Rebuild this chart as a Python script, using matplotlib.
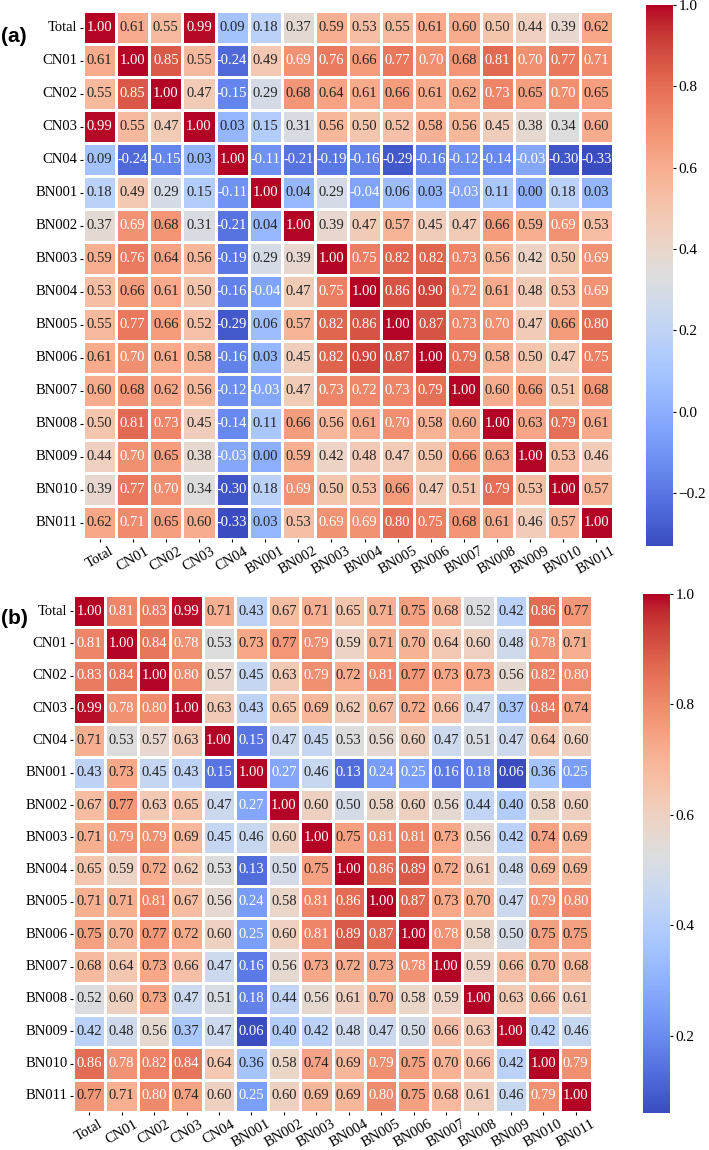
import numpy as np
import matplotlib
matplotlib.use('Agg')
import matplotlib.pyplot as plt
import seaborn as sns

plt.rcParams['font.family'] = ['Liberation Serif', 'DejaVu Serif']

labels = ['Total', 'CN01', 'CN02', 'CN03', 'CN04', 'BN001', 'BN002', 'BN003',
          'BN004', 'BN005', 'BN006', 'BN007', 'BN008', 'BN009', 'BN010', 'BN011']

# panel (a)
corr_a = [
    [1.00, 0.61, 0.55, 0.99, 0.09, 0.18, 0.37, 0.59, 0.53, 0.55, 0.61, 0.60, 0.50, 0.44, 0.39, 0.62],
    [0.61, 1.00, 0.85, 0.55, -0.24, 0.49, 0.69, 0.76, 0.66, 0.77, 0.70, 0.68, 0.81, 0.70, 0.77, 0.71],
    [0.55, 0.85, 1.00, 0.47, -0.15, 0.29, 0.68, 0.64, 0.61, 0.66, 0.61, 0.62, 0.73, 0.65, 0.70, 0.65],
    [0.99, 0.55, 0.47, 1.00, 0.03, 0.15, 0.31, 0.56, 0.50, 0.52, 0.58, 0.56, 0.45, 0.38, 0.34, 0.60],
    [0.09, -0.24, -0.15, 0.03, 1.00, -0.11, -0.21, -0.19, -0.16, -0.29, -0.16, -0.12, -0.14, -0.03, -0.30, -0.33],
    [0.18, 0.49, 0.29, 0.15, -0.11, 1.00, 0.04, 0.29, -0.04, 0.06, 0.03, -0.03, 0.11, 0.00, 0.18, 0.03],
    [0.37, 0.69, 0.68, 0.31, -0.21, 0.04, 1.00, 0.39, 0.47, 0.57, 0.45, 0.47, 0.66, 0.59, 0.69, 0.53],
    [0.59, 0.76, 0.64, 0.56, -0.19, 0.29, 0.39, 1.00, 0.75, 0.82, 0.82, 0.73, 0.56, 0.42, 0.50, 0.69],
    [0.53, 0.66, 0.61, 0.50, -0.16, -0.04, 0.47, 0.75, 1.00, 0.86, 0.90, 0.72, 0.61, 0.48, 0.53, 0.69],
    [0.55, 0.77, 0.66, 0.52, -0.29, 0.06, 0.57, 0.82, 0.86, 1.00, 0.87, 0.73, 0.70, 0.47, 0.66, 0.80],
    [0.61, 0.70, 0.61, 0.58, -0.16, 0.03, 0.45, 0.82, 0.90, 0.87, 1.00, 0.79, 0.58, 0.50, 0.47, 0.75],
    [0.60, 0.68, 0.62, 0.56, -0.12, -0.03, 0.47, 0.73, 0.72, 0.73, 0.79, 1.00, 0.60, 0.66, 0.51, 0.68],
    [0.50, 0.81, 0.73, 0.45, -0.14, 0.11, 0.66, 0.56, 0.61, 0.70, 0.58, 0.60, 1.00, 0.63, 0.79, 0.61],
    [0.44, 0.70, 0.65, 0.38, -0.03, 0.00, 0.59, 0.42, 0.48, 0.47, 0.50, 0.66, 0.63, 1.00, 0.53, 0.46],
    [0.39, 0.77, 0.70, 0.34, -0.30, 0.18, 0.69, 0.50, 0.53, 0.66, 0.47, 0.51, 0.79, 0.53, 1.00, 0.57],
    [0.62, 0.71, 0.65, 0.60, -0.33, 0.03, 0.53, 0.69, 0.69, 0.80, 0.75, 0.68, 0.61, 0.46, 0.57, 1.00],
]

# panel (b)
corr_b = [
    [1.00, 0.81, 0.83, 0.99, 0.71, 0.43, 0.67, 0.71, 0.65, 0.71, 0.75, 0.68, 0.52, 0.42, 0.86, 0.77],
    [0.81, 1.00, 0.84, 0.78, 0.53, 0.73, 0.77, 0.79, 0.59, 0.71, 0.70, 0.64, 0.60, 0.48, 0.78, 0.71],
    [0.83, 0.84, 1.00, 0.80, 0.57, 0.45, 0.63, 0.79, 0.72, 0.81, 0.77, 0.73, 0.73, 0.56, 0.82, 0.80],
    [0.99, 0.78, 0.80, 1.00, 0.63, 0.43, 0.65, 0.69, 0.62, 0.67, 0.72, 0.66, 0.47, 0.37, 0.84, 0.74],
    [0.71, 0.53, 0.57, 0.63, 1.00, 0.15, 0.47, 0.45, 0.53, 0.56, 0.60, 0.47, 0.51, 0.47, 0.64, 0.60],
    [0.43, 0.73, 0.45, 0.43, 0.15, 1.00, 0.27, 0.46, 0.13, 0.24, 0.25, 0.16, 0.18, 0.06, 0.36, 0.25],
    [0.67, 0.77, 0.63, 0.65, 0.47, 0.27, 1.00, 0.60, 0.50, 0.58, 0.60, 0.56, 0.44, 0.40, 0.58, 0.60],
    [0.71, 0.79, 0.79, 0.69, 0.45, 0.46, 0.60, 1.00, 0.75, 0.81, 0.81, 0.73, 0.56, 0.42, 0.74, 0.69],
    [0.65, 0.59, 0.72, 0.62, 0.53, 0.13, 0.50, 0.75, 1.00, 0.86, 0.89, 0.72, 0.61, 0.48, 0.69, 0.69],
    [0.71, 0.71, 0.81, 0.67, 0.56, 0.24, 0.58, 0.81, 0.86, 1.00, 0.87, 0.73, 0.70, 0.47, 0.79, 0.80],
    [0.75, 0.70, 0.77, 0.72, 0.60, 0.25, 0.60, 0.81, 0.89, 0.87, 1.00, 0.78, 0.58, 0.50, 0.75, 0.75],
    [0.68, 0.64, 0.73, 0.66, 0.47, 0.16, 0.56, 0.73, 0.72, 0.73, 0.78, 1.00, 0.59, 0.66, 0.70, 0.68],
    [0.52, 0.60, 0.73, 0.47, 0.51, 0.18, 0.44, 0.56, 0.61, 0.70, 0.58, 0.59, 1.00, 0.63, 0.66, 0.61],
    [0.42, 0.48, 0.56, 0.37, 0.47, 0.06, 0.40, 0.42, 0.48, 0.47, 0.50, 0.66, 0.63, 1.00, 0.42, 0.46],
    [0.86, 0.78, 0.82, 0.84, 0.64, 0.36, 0.58, 0.74, 0.69, 0.79, 0.75, 0.70, 0.66, 0.42, 1.00, 0.79],
    [0.77, 0.71, 0.80, 0.74, 0.60, 0.25, 0.60, 0.69, 0.69, 0.80, 0.75, 0.68, 0.61, 0.46, 0.79, 1.00],
]

W, H = 709, 1150
fig = plt.figure(figsize=(W / 100, H / 100), dpi=100)

def box(x0, y0, x1, y1):
    # pixel box -> figure fraction
    return [x0 / W, 1 - y1 / H, (x1 - x0) / W, (y1 - y0) / H]

panels = [
    (corr_a, box(83, 11, 613, 539), box(646, 5, 673, 546), '(a)', 36),
    (corr_b, box(73, 595, 592, 1112), box(643, 594, 670, 1113), '(b)', 619),
]

for data, ax_box, cb_box, tag, tag_y in panels:
    ax = fig.add_axes(ax_box)
    cax = fig.add_axes(cb_box)
    sns.heatmap(np.array(data), ax=ax, cbar_ax=cax, cmap='coolwarm',
                annot=True, fmt='.2f', annot_kws={'fontsize': 10.5},
                linewidths=1, linecolor='white',
                xticklabels=labels, yticklabels=labels)
    ax.tick_params(axis='x', labelsize=10.5, rotation=30, length=2.5, pad=1.5)
    ax.tick_params(axis='y', labelsize=10.5, rotation=0, length=2.5, pad=1.5)
    cax.tick_params(labelsize=11, length=2.5, pad=1.5)
    fig.text(1 / W, 1 - tag_y / H, tag, fontsize=15, fontweight='bold',
             family=['Liberation Sans', 'DejaVu Sans'], va='center', ha='left')

fig.savefig('out.png', dpi=100)
